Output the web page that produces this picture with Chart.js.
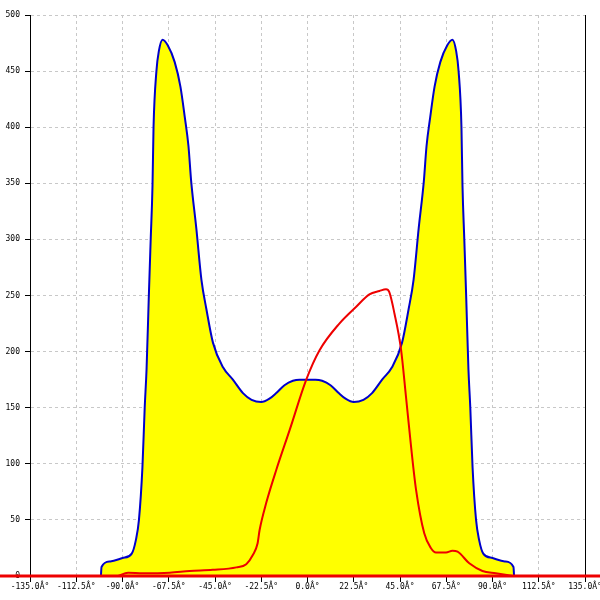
<!DOCTYPE html>
<html>
<head>
<meta charset="utf-8">
<script src="https://cdn.jsdelivr.net/npm/chart.js@4"></script>
<style>
  html, body { margin: 0; padding: 0; background: #fff; }
  #wrap { width: 600px; height: 600px; }
</style>
</head>
<body>
<div id="wrap"><canvas id="chart-polar"></canvas></div>
<script>
// tick values and labels
const xTicks = [-135, -112.5, -90, -67.5, -45, -22.5, 0, 22.5, 45, 67.5, 90, 112.5, 135];
const xTickLabels = ["-135.0Â°", "-112.5Â°", "-90.0Â°", "-67.5Â°", "-45.0Â°", "-22.5Â°", "0.0Â°",
  "22.5Â°", "45.0Â°", "67.5Â°", "90.0Â°", "112.5Â°", "135.0Â°"];
const yTicks = [0, 50, 100, 150, 200, 250, 300, 350, 400, 450, 500];

// blue series (filled yellow)
const blueAngles = [-100.5, -100.2, -96, -90, -85.5, -83.5, -82, -80.3, -79.2, -78.3, -77.2, -76.3,
  -75.4, -74.9, -73.5, -72.3, -70.5, -68, -64.6, -61.8, -59.7, -57.9, -56.6, -54.1, -51.6, -49.2,
  -46, -41.1, -36.3, -31.4, -27.2, -22.5, -18.5, -15.2, -11.2, -7.1, -3.9, 0,
  3.9, 7.1, 11.2, 15.2, 18.5, 22.5, 27.2, 31.4, 36.3, 41.1, 46, 49.2, 51.6, 54.1, 56.6, 57.9,
  59.7, 61.8, 64.6, 68, 70.5, 72.3, 73.5, 74.9, 75.4, 76.3, 77.2, 78.3, 79.2, 80.3, 82, 83.5,
  85.5, 90, 96, 100.2, 100.5];
const blueValues = [0, 8, 13, 16, 20, 32, 50, 97, 150, 184, 249, 299,
  348, 400, 450, 468, 478, 473, 458, 436, 409, 383, 352, 310, 264, 238,
  208, 186, 175, 163, 157, 155, 158, 163, 170, 174, 175, 175,
  175, 174, 170, 163, 158, 155, 157, 163, 175, 186, 208, 238, 264, 310, 352, 383,
  409, 436, 458, 473, 478, 468, 450, 400, 348, 299, 249, 184, 150, 97, 50, 32,
  20, 16, 13, 8, 0];

// red series
const redAngles = [-92.1, -87.3, -80.1, -67, -57.3, -46.1, -34.6, -29.8, -26.6, -24.3, -23.3, -20.1,
  -15.2, -8.7, -0.6, 5.8, 15.5, 23.7, 30.1, 35, 38.2, 39.8, 42.3, 45.5, 47.9, 50.4, 52.8, 56.8,
  60, 62.5, 67.4, 70.5, 73, 78.7, 85.1, 91.6, 99.7];
const redValues = [0, 3, 2.5, 3, 4.5, 5.5, 7.7, 10.5, 18.7, 29, 41, 65,
  94.5, 130, 175, 201, 225, 240, 251, 254, 255.5, 253, 234, 202, 160, 115, 77, 38,
  25, 21, 21, 22.5, 21.7, 11.3, 4.5, 2.4, 0];

const toPoints = (xs, ys) => xs.map((x, i) => ({ x: x, y: ys[i] }));

const tickFont = { family: "'DejaVu Sans Mono', monospace", size: 8 };

// red zero line across the whole canvas + black right frame line
const framePlugin = {
  id: "frame",
  afterDraw(chart) {
    const { ctx, chartArea, scales } = chart;
    ctx.save();
    ctx.strokeStyle = "#000";
    ctx.lineWidth = 1;
    ctx.beginPath();
    ctx.moveTo(chartArea.right + 0.5, chartArea.top);
    ctx.lineTo(chartArea.right + 0.5, chartArea.bottom);
    ctx.stroke();
    const y0 = scales.y.getPixelForValue(0);
    ctx.strokeStyle = "#ee0000";
    ctx.lineWidth = 3;
    ctx.beginPath();
    ctx.moveTo(0, y0);
    ctx.lineTo(chart.width, y0);
    ctx.stroke();
    ctx.restore();
  },
};

const ctx = document.getElementById("chart-polar").getContext("2d");
new Chart(ctx, {
  type: "line",
  data: {
    datasets: [
      {
        data: toPoints(redAngles, redValues),
        borderColor: "#ee0000",
        borderWidth: 2,
        pointRadius: 0,
        cubicInterpolationMode: "monotone",
        fill: false,
      },
      {
        data: toPoints(blueAngles, blueValues),
        borderColor: "#0000cc",
        backgroundColor: "#ffff00",
        borderWidth: 2,
        pointRadius: 0,
        cubicInterpolationMode: "monotone",
        fill: "origin",
      },
    ],
  },
  options: {
    responsive: true,
    maintainAspectRatio: false,
    animation: false,
    layout: { padding: { top: 15, right: 15, left: 0, bottom: 0 } },
    plugins: {
      legend: { display: false },
      tooltip: { enabled: false },
    },
    scales: {
      x: {
        type: "linear",
        min: -135,
        max: 135,
        z: 1,
        afterBuildTicks: (scale) => { scale.ticks = xTicks.map((v) => ({ value: v })); },
        afterFit: (scale) => { scale.height = 24; scale.paddingLeft = 0; scale.paddingRight = 0; },
        ticks: {
          autoSkip: false,
          maxRotation: 0,
          padding: 0,
          color: "#000",
          font: tickFont,
          callback: (value, index) => xTickLabels[index],
        },
        grid: {
          color: "#c8c8c8",
          tickColor: "#000",
          tickLength: 6,
          tickBorderDash: [],
        },
        border: { display: true, color: "#000", dash: [3, 3] },
      },
      y: {
        min: 0,
        max: 500,
        z: 1,
        afterBuildTicks: (scale) => { scale.ticks = yTicks.map((v) => ({ value: v })); },
        afterFit: (scale) => { scale.width = 30; scale.paddingTop = 0; scale.paddingBottom = 0; },
        ticks: {
          padding: 5,
          color: "#000",
          font: tickFont,
        },
        grid: {
          color: "#c8c8c8",
          tickColor: "#000",
          tickLength: 5,
          tickBorderDash: [],
        },
        border: { display: true, color: "#000", dash: [3, 3] },
      },
    },
  },
  plugins: [framePlugin],
});
</script>
</body>
</html>
